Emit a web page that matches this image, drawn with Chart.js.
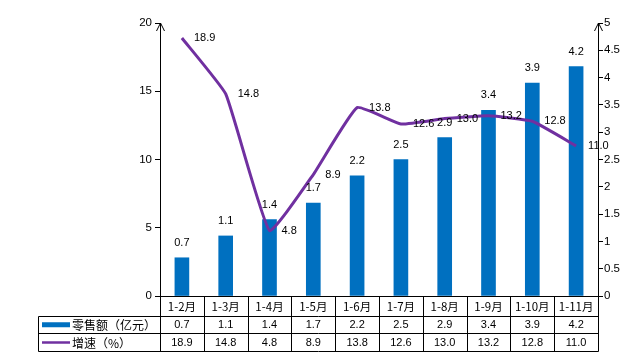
<!DOCTYPE html>
<html><head><meta charset="utf-8">
<script src="https://cdn.jsdelivr.net/npm/chart.js@4/dist/chart.umd.min.js"></script>
<style>html,body{margin:0;padding:0;background:#fff}#wrap{width:634px;height:354px}</style>
</head><body><div id="wrap"><canvas id="c" width="634" height="354"></canvas></div>
<script>
const categories = ['1-2月','1-3月','1-4月','1-5月','1-6月','1-7月','1-8月','1-9月','1-10月','1-11月'];
const salesValues = [0.7,1.1,1.4,1.7,2.2,2.5,2.9,3.4,3.9,4.2];
const growthValues = [18.9,14.8,4.8,8.9,13.8,12.6,13.0,13.2,12.8,11.0];
const leftTicks = [0,5,10,15,20];
const rightTicks = [0,0.5,1,1.5,2,2.5,3,3.5,4,4.5,5];
const seriesNames = ['零售额（亿元）','增速（%）'];

const BAR = '#0070C0', LINE = '#7030A0';
const numFont = '11px "Liberation Sans", "Noto Sans CJK SC", sans-serif';
const cjkFont = '11.5px "Noto Sans CJK SC", sans-serif';
const legFont = '12px "Noto Sans CJK SC", sans-serif';

const overlay = {
  id:'overlay',
  afterDatasetsDraw(chart){
    const ctx = chart.ctx, x = chart.scales.x, yL = chart.scales.y, yR = chart.scales.y1;
    ctx.save();
    ctx.fillStyle = '#000';
    ctx.font = numFont;
    ctx.textAlign = 'center'; ctx.textBaseline = 'middle';
    salesValues.forEach((v,i)=>{
      ctx.fillText(v.toFixed(1), x.getPixelForValue(i), yR.getPixelForValue(v) - 15);
    });
    ctx.textAlign = 'left';
    growthValues.forEach((v,i)=>{
      ctx.fillText(v.toFixed(1), x.getPixelForValue(i) + 12, yL.getPixelForValue(v));
    });
    ctx.restore();
  },
  afterDraw(chart){
    const ctx = chart.ctx, a = chart.chartArea, x = chart.scales.x;
    const n = categories.length, cw = (a.right - a.left)/n;
    const r0 = a.bottom, r1 = a.bottom + 19.5, r2 = a.bottom + 37, r3 = a.bottom + 55;
    const tl = 38.5;
    ctx.save();
    ctx.strokeStyle = '#000'; ctx.lineWidth = 1;
    [a.left, a.right].forEach(px=>{
      const X = Math.round(px)+0.5;
      ctx.beginPath(); ctx.moveTo(X-4, a.top+8); ctx.lineTo(X, a.top); ctx.lineTo(X+4, a.top+8); ctx.stroke();
    });
    ctx.beginPath();
    const L = Math.round(a.left)+0.5, R = Math.round(a.right)+0.5;
    ctx.moveTo(L, Math.round(r0)+0.5); ctx.lineTo(R, Math.round(r0)+0.5);
    [r1,r2,r3].forEach(r=>{ ctx.moveTo(tl, Math.round(r)+0.5); ctx.lineTo(R, Math.round(r)+0.5); });
    ctx.moveTo(tl, Math.round(r1)+0.5); ctx.lineTo(tl, Math.round(r3)+0.5);
    for(let i=0;i<=n;i++){
      const X = Math.round(a.left + i*cw)+0.5;
      ctx.moveTo(X, Math.round(r0)); ctx.lineTo(X, Math.round(r3)+0.5);
    }
    ctx.stroke();
    ctx.fillStyle = '#000'; ctx.textAlign='center'; ctx.textBaseline='middle';
    categories.forEach((c,i)=>{
      const cx = x.getPixelForValue(i);
      ctx.font = cjkFont; ctx.fillText(c, cx, (r0+r1)/2 + 1);
      ctx.font = numFont;
      ctx.fillText(salesValues[i].toFixed(1), cx, (r1+r2)/2 + 1);
      ctx.fillText(growthValues[i].toFixed(1), cx, (r2+r3)/2 + 1);
    });
    ctx.fillStyle = BAR; ctx.fillRect(42, (r1+r2)/2 - 2, 28, 5);
    ctx.strokeStyle = LINE; ctx.lineWidth = 2.5;
    ctx.beginPath(); ctx.moveTo(42, (r2+r3)/2 + 0.5); ctx.lineTo(70, (r2+r3)/2 + 0.5); ctx.stroke();
    ctx.fillStyle = '#000'; ctx.textAlign='left'; ctx.font = legFont;
    ctx.fillText(seriesNames[0], 72, (r1+r2)/2 + 1);
    ctx.fillText(seriesNames[1], 72, (r2+r3)/2 + 1);
    ctx.restore();
  }
};

new Chart(document.getElementById('c'), {
  type:'bar',
  data:{
    labels: categories,
    datasets:[
      {type:'line', label:seriesNames[1], data:growthValues, yAxisID:'y', borderColor:LINE, backgroundColor:LINE, borderWidth:3, pointRadius:0, tension:0.12, order:0},
      {type:'bar', label:seriesNames[0], data:salesValues, yAxisID:'y1', backgroundColor:BAR, barThickness:14, order:1}
    ]
  },
  options:{
    responsive:false, animation:false, devicePixelRatio:1,
    layout:{padding:{top:23, bottom:58, left:0, right:0}},
    plugins:{legend:{display:false}, tooltip:{enabled:false}},
    scales:{
      x:{display:false, offset:true},
      y:{position:'left', min:0, max:20,
        afterFit(s){ s.width = 160; },
        afterBuildTicks(s){ s.ticks = leftTicks.map(v=>({value:v})); },
        border:{color:'#000', width:1},
        grid:{drawOnChartArea:false, drawTicks:true, tickLength:5, color:'#000'},
        ticks:{color:'#000', font:{family:'"Liberation Sans", sans-serif', size:11.5}, padding:3, callback:v=>String(v)}
      },
      y1:{position:'right', min:0, max:5,
        afterFit(s){ s.width = 36; },
        afterBuildTicks(s){ s.ticks = rightTicks.map(v=>({value:v})); },
        border:{color:'#000', width:1},
        grid:{drawOnChartArea:false, drawTicks:true, tickLength:5, color:'#000'},
        ticks:{color:'#000', font:{family:'"Liberation Sans", sans-serif', size:11.5}, padding:1, callback:v=>String(v)}
      }
    }
  },
  plugins:[overlay]
});
</script></body></html>
